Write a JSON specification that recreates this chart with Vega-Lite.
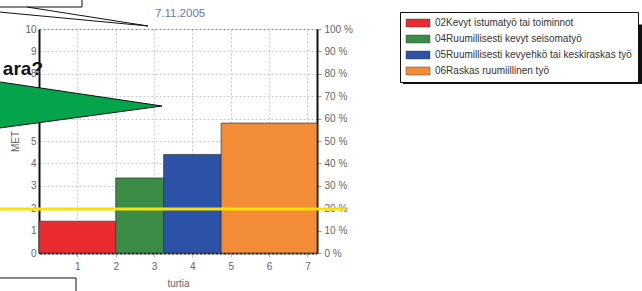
{
  "$schema": "https://vega.github.io/schema/vega-lite/v6.json",
  "width": 278,
  "height": 224,
  "autosize": {"type": "none"},
  "padding": {"left": 39, "top": 29, "right": 325, "bottom": 38},
  "background": "white",
  "config": {"view": {"stroke": null}, "font": "Liberation Sans"},
  "layer": [
    {
      "encoding": {
        "x": {"field": "x", "type": "quantitative", "title": "turtia",
          "scale": {"domain": [0, 7.25], "nice": false, "zero": false},
          "axis": {"values": [1, 2, 3, 4, 5, 6, 7], "labelFont": "Liberation Sans", "labelFontSize": 10, "labelColor": "#666", "labelPadding": 4, "tickSize": 4, "tickColor": "#bbb", "domainColor": "#111", "domainWidth": 2, "domainDash": [3, 1], "grid": true, "gridColor": "#c8c8c8", "gridDash": [2, 2], "titleFont": "Liberation Sans", "titleFontSize": 10, "titleFontWeight": "normal", "titleColor": "#666", "titleX": 139, "titleY": 30, "titleBaseline": "middle", "titleAlign": "center"}},
        "y": {"field": "y", "type": "quantitative", "title": "MET",
          "scale": {"domain": [0, 10], "nice": false, "zero": false},
          "axis": {"values": [0, 1, 2, 3, 4, 5, 6, 7, 8, 9, 10], "labelFont": "Liberation Sans", "labelFontSize": 10, "labelColor": "#666", "labelPadding": 3, "tickSize": 0, "domainColor": "#111", "domainWidth": 2, "grid": true, "gridColor": {"condition": {"test": "datum.value == 10", "value": "#888"}, "value": "#c8c8c8"}, "gridDash": [2, 2], "titleFont": "Liberation Sans", "titleFontSize": 10, "titleFontWeight": "normal", "titleColor": "#666", "titleX": -24, "titleY": 112, "titleAngle": -90, "titleAlign": "center", "titleBaseline": "middle"}}
      },
      "layer": [
        {
          "data": {"values": [
            {"cat": "02Kevyt istumatyö tai toiminnot", "x": 0, "x2": 2, "y": 1.42},
            {"cat": "04Ruumillisesti kevyt seisomatyö", "x": 2, "x2": 3.25, "y": 3.35},
            {"cat": "05Ruumillisesti kevyehkö tai keskiraskas työ", "x": 3.25, "x2": 4.75, "y": 4.4},
            {"cat": "06Raskas ruumiillinen työ", "x": 4.75, "x2": 7.25, "y": 5.8}
          ]},
          "mark": {"type": "rect", "stroke": "#333", "strokeWidth": 0.7},
          "encoding": {
            "x2": {"field": "x2"},
            "y2": {"datum": 0},
            "color": {"field": "cat", "type": "nominal",
              "scale": {"domain": ["02Kevyt istumatyö tai toiminnot", "04Ruumillisesti kevyt seisomatyö", "05Ruumillisesti kevyehkö tai keskiraskas työ", "06Raskas ruumiillinen työ"], "range": ["#ea2b2f", "#3b8c45", "#2b52a6", "#f28c36"]},
              "legend": {"orient": "none", "legendX": 361, "legendY": -17, "title": null, "strokeColor": "#111", "fillColor": "white", "padding": 6, "symbolType": "M-3,-1H3V1H-3Z", "symbolSize": 64, "symbolOffset": 7, "labelOffset": 12, "labelFont": "Liberation Sans", "labelFontSize": 10, "labelColor": "#333", "labelLimit": 0, "rowPadding": 6, "symbolStrokeColor": "#444", "symbolStrokeWidth": 0.5, "symbolOpacity": 1, "cornerRadius": 0}}
          }
        },
        {
          "data": {"values": [{"x": 9.49, "x2": 17.3, "y": 10.2, "y2": 7.54}]},
          "mark": {"type": "rect", "color": "#111"},
          "encoding": {"x2": {"field": "x2"}, "y2": {"field": "y2"}}
        },
        {
          "data": {"values": [{"x": -1.1, "x2": 8.006, "y": 1.964}]},
          "mark": {"type": "rule", "color": "#fae100", "strokeWidth": 3},
          "encoding": {"x2": {"field": "x2"}}
        },
        {
          "data": {"values": [
            {"x": -1.2, "x2": 1.121, "y": 11.6, "y2": 10.982},
            {"x": -1.2, "x2": 0.965, "y": -1.116, "y2": -2.2}
          ]},
          "mark": {"type": "rect", "fill": "white", "stroke": "#111", "strokeWidth": 1},
          "encoding": {"x2": {"field": "x2"}, "y2": {"field": "y2"}}
        },
        {
          "data": {"values": [
            {"seg": "a", "o": 1, "x": -0.313, "y": 10.982},
            {"seg": "a", "o": 2, "x": 2.843, "y": 10.134},
            {"seg": "b", "o": 1, "x": -1.05, "y": 10.76},
            {"seg": "b", "o": 2, "x": 2.843, "y": 10.134}
          ]},
          "mark": {"type": "line", "color": "#111", "strokeWidth": 1},
          "encoding": {"detail": {"field": "seg"}, "order": {"field": "o"}}
        },
        {
          "data": {"values": [
            {"x": -1.1, "y": 7.656, "y2": 5.563},
            {"x": 3.208, "y": 6.5625, "y2": 6.5625}
          ]},
          "mark": {"type": "area", "color": "#04a44c", "stroke": "#111", "strokeWidth": 1},
          "encoding": {"y2": {"field": "y2"}}
        },
        {
          "data": {"values": [{"x": 0.104, "y": 7.946, "t": "ara?"}]},
          "mark": {"type": "text", "align": "right", "baseline": "alphabetic", "fontSize": 19, "fontWeight": "bold", "font": "Liberation Sans", "color": "#111"},
          "encoding": {"text": {"field": "t"}}
        },
        {
          "data": {"values": [{"x": 3.678, "y": 10.52, "t": "7.11.2005"}]},
          "mark": {"type": "text", "align": "center", "baseline": "alphabetic", "fontSize": 11.5, "font": "Liberation Sans", "color": "#6878a8"},
          "encoding": {"text": {"field": "t"}}
        }
      ]
    },
    {
      "data": {"values": [{"p": 0}, {"p": 100}]},
      "mark": {"type": "point", "opacity": 0},
      "encoding": {
        "y": {"field": "p", "type": "quantitative", "title": null,
          "scale": {"domain": [0, 100], "nice": false, "zero": false},
          "axis": {"orient": "right", "values": [0, 10, 20, 30, 40, 50, 60, 70, 80, 90, 100], "labelExpr": "datum.value + ' %'", "labelFont": "Liberation Sans", "labelFontSize": 10, "labelColor": "#666", "labelPadding": 3, "tickSize": 4, "tickColor": "#999", "domainColor": "#111", "domainWidth": 2, "grid": false}}
      }
    }
  ],
  "resolve": {"scale": {"y": "independent"}, "axis": {"y": "independent"}}
}
